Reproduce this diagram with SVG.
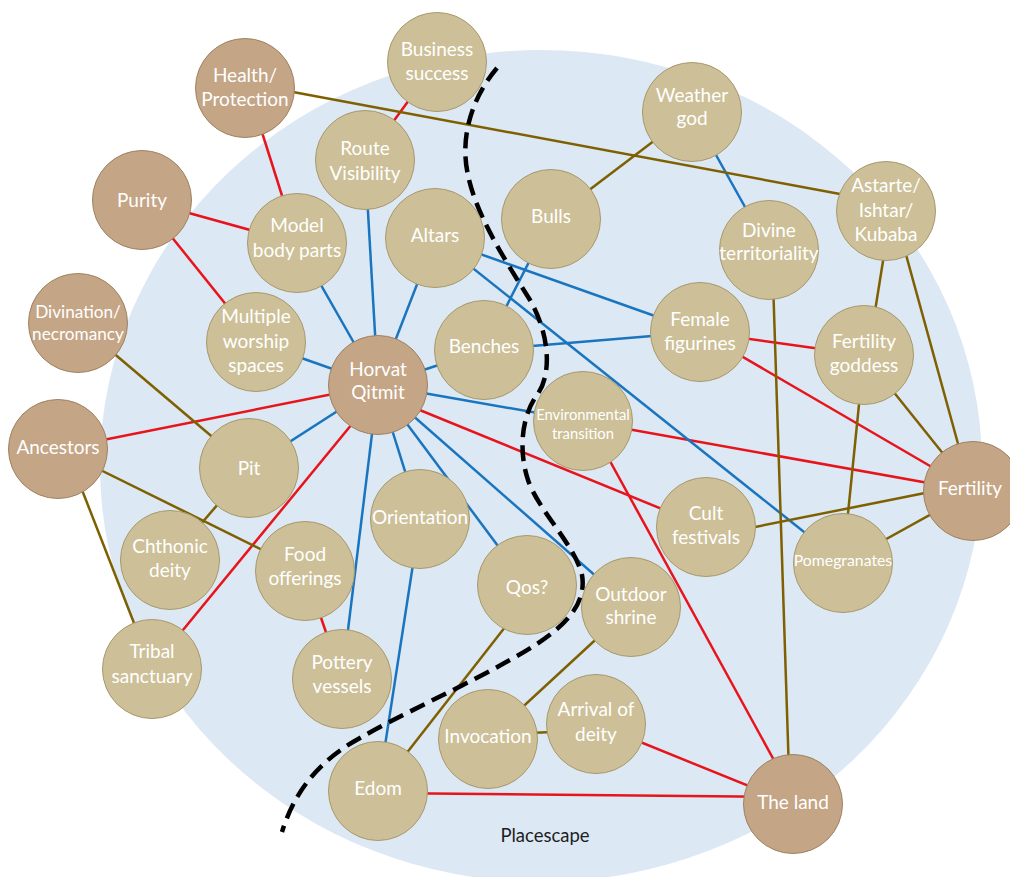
<svg xmlns="http://www.w3.org/2000/svg" width="1010" height="877" viewBox="0 0 1010 877">
<style>
.r{stroke:#e8141b;stroke-width:2.5;fill:none}
.b{stroke:#1a75bf;stroke-width:2.5;fill:none}
.o{stroke:#7f6000;stroke-width:2.5;fill:none}
.tan circle{fill:#cdbf97;stroke:#a8996c;stroke-width:1}
.brn circle{fill:#c4a586;stroke:#9f8260;stroke-width:1}
text{font-family:Lato,"Liberation Sans",sans-serif;font-size:19px;fill:#ffffff;text-anchor:middle}
.sm{font-size:14.8px}
.md{font-size:15.8px}
.dv{font-size:17.2px}
.ps{fill:#1e1e1e;font-size:18.5px}
</style>
<rect width="1010" height="877" fill="#ffffff"/>
<ellipse cx="541" cy="466" rx="441" ry="416" fill="#dde8f5"/>
<text class="ps" x="545" y="842">Placescape</text>
<g id="connectors">
<line class="r" x1="248" y1="88" x2="297" y2="243"/>
<line class="r" x1="437" y1="62" x2="365" y2="160"/>
<line class="r" x1="142" y1="200" x2="297" y2="243"/>
<line class="r" x1="142" y1="200" x2="256" y2="342"/>
<line class="r" x1="378" y1="385" x2="58" y2="449"/>
<line class="r" x1="384" y1="385" x2="151" y2="669"/>
<line class="r" x1="378" y1="393" x2="706" y2="527"/>
<line class="r" x1="583" y1="421" x2="973" y2="491"/>
<line class="r" x1="588" y1="421" x2="798" y2="804"/>
<line class="r" x1="700" y1="332" x2="864" y2="355"/>
<line class="r" x1="700" y1="332" x2="973" y2="491"/>
<line class="r" x1="305" y1="571" x2="342" y2="679"/>
<line class="r" x1="596" y1="724" x2="793" y2="804"/>
<line class="r" x1="378" y1="793" x2="793" y2="797"/>
<line class="b" x1="378" y1="385" x2="297" y2="243"/>
<line class="b" x1="378" y1="385" x2="365" y2="160"/>
<line class="b" x1="378" y1="385" x2="435" y2="238"/>
<line class="b" x1="378" y1="385" x2="256" y2="342"/>
<line class="b" x1="378" y1="385" x2="484" y2="350"/>
<line class="b" x1="378" y1="385" x2="583" y2="421"/>
<line class="b" x1="378" y1="385" x2="249" y2="468"/>
<line class="b" x1="378" y1="385" x2="342" y2="679"/>
<line class="b" x1="378" y1="385" x2="420" y2="519"/>
<line class="b" x1="378" y1="385" x2="527" y2="585"/>
<line class="b" x1="378" y1="385" x2="631" y2="607"/>
<line class="b" x1="435" y1="238" x2="700" y2="332"/>
<line class="b" x1="435" y1="238" x2="843" y2="563"/>
<line class="b" x1="484" y1="350" x2="700" y2="332"/>
<line class="b" x1="484" y1="350" x2="551" y2="219"/>
<line class="b" x1="692" y1="112" x2="769" y2="250"/>
<line class="b" x1="420" y1="519" x2="378" y2="791"/>
<line class="o" x1="293" y1="92" x2="840" y2="194"/>
<line class="o" x1="692" y1="112" x2="551" y2="219"/>
<line class="o" x1="891" y1="211" x2="868" y2="355"/>
<line class="o" x1="894" y1="211" x2="971" y2="491"/>
<line class="o" x1="864" y1="355" x2="973" y2="491"/>
<line class="o" x1="864" y1="355" x2="843" y2="563"/>
<line class="o" x1="750" y1="528" x2="930" y2="492"/>
<line class="o" x1="843" y1="563" x2="973" y2="491"/>
<line class="o" x1="772" y1="250" x2="790" y2="804"/>
<line class="o" x1="78" y1="323" x2="249" y2="468"/>
<line class="o" x1="58" y1="449" x2="305" y2="571"/>
<line class="o" x1="66" y1="449" x2="152" y2="669"/>
<line class="o" x1="249" y1="468" x2="170" y2="560"/>
<line class="o" x1="538" y1="585" x2="377" y2="791"/>
<line class="o" x1="631" y1="607" x2="488" y2="739"/>
<line class="o" x1="488" y1="735" x2="596" y2="730"/>
</g>
<path id="boundary" d="M497,68 C470,100 460,140 468,175 C476,215 505,260 530,300 C550,335 552,375 537,395 C522,415 518,450 528,480 C538,510 575,545 582,575 C588,610 555,635 510,660 C460,688 400,715 360,738 C320,760 295,790 282,832" fill="none" stroke="#000000" stroke-width="4.5" stroke-dasharray="16 8"/>
<g id="health" class="brn"><circle cx="245" cy="88" r="49.5"/><text x="245" y="82">Health/</text><text x="245" y="106">Protection</text></g>
<g id="business" class="tan"><circle cx="437" cy="62" r="49.5"/><text x="437" y="56">Business</text><text x="437" y="80">success</text></g>
<g id="route" class="tan"><circle cx="365" cy="160" r="49.5"/><text x="365" y="155">Route</text><text x="365" y="180">Visibility</text></g>
<g id="purity" class="brn"><circle cx="142" cy="200" r="49.5"/><text x="142" y="207">Purity</text></g>
<g id="model" class="tan"><circle cx="297" cy="243" r="49.5"/><text x="297" y="232">Model</text><text x="297" y="257">body parts</text></g>
<g id="altars" class="tan"><circle cx="435" cy="238" r="49.5"/><text x="435" y="242">Altars</text></g>
<g id="weather" class="tan"><circle cx="692" cy="112" r="49.5"/><text x="692" y="102">Weather</text><text x="692" y="125">god</text></g>
<g id="bulls" class="tan"><circle cx="551" cy="219" r="49.5"/><text x="551" y="223">Bulls</text></g>
<g id="divine" class="tan"><circle cx="769" cy="250" r="49.5"/><text x="769" y="237">Divine</text><text x="769" y="260">territoriality</text></g>
<g id="astarte" class="tan"><circle cx="886" cy="211" r="49.5"/><text x="886" y="192">Astarte/</text><text x="886" y="217">Ishtar/</text><text x="886" y="241">Kubaba</text></g>
<g id="divination" class="brn"><circle cx="78" cy="323" r="49.5"/><text class="dv" x="78" y="318">Divination/</text><text class="dv" x="78" y="340">necromancy</text></g>
<g id="multiple" class="tan"><circle cx="256" cy="342" r="49.5"/><text x="256" y="323">Multiple</text><text x="256" y="348">worship</text><text x="256" y="372">spaces</text></g>
<g id="horvat" class="brn"><circle cx="378" cy="385" r="49.5"/><text x="378" y="376">Horvat</text><text x="378" y="399">Qitmit</text></g>
<g id="benches" class="tan"><circle cx="484" cy="350" r="49.5"/><text x="484" y="353">Benches</text></g>
<g id="female" class="tan"><circle cx="700" cy="332" r="49.5"/><text x="700" y="326">Female</text><text x="700" y="350">figurines</text></g>
<g id="fertgoddess" class="tan"><circle cx="864" cy="355" r="49.5"/><text x="864" y="348">Fertility</text><text x="864" y="372">goddess</text></g>
<g id="environmental" class="tan"><circle cx="583" cy="421" r="49.5"/><text class="sm" x="583" y="420">Environmental</text><text class="sm" x="583" y="439">transition</text></g>
<g id="ancestors" class="brn"><circle cx="58" cy="449" r="49.5"/><text x="58" y="454">Ancestors</text></g>
<g id="pit" class="tan"><circle cx="249" cy="468" r="49.5"/><text x="249" y="475">Pit</text></g>
<g id="fertility" class="brn"><circle cx="973" cy="491" r="49.5"/><text x="970" y="495">Fertility</text></g>
<g id="orientation" class="tan"><circle cx="420" cy="519" r="49.5"/><text x="420" y="524">Orientation</text></g>
<g id="cult" class="tan"><circle cx="706" cy="527" r="49.5"/><text x="706" y="520">Cult</text><text x="706" y="544">festivals</text></g>
<g id="chthonic" class="tan"><circle cx="170" cy="560" r="49.5"/><text x="170" y="553">Chthonic</text><text x="170" y="577">deity</text></g>
<g id="food" class="tan"><circle cx="305" cy="571" r="49.5"/><text x="305" y="561">Food</text><text x="305" y="585">offerings</text></g>
<g id="pomegranates" class="tan"><circle cx="843" cy="563" r="49.5"/><text class="md" x="843" y="566">Pomegranates</text></g>
<g id="qos" class="tan"><circle cx="527" cy="585" r="49.5"/><text x="527" y="594">Qos?</text></g>
<g id="outdoor" class="tan"><circle cx="631" cy="607" r="49.5"/><text x="631" y="601">Outdoor</text><text x="631" y="624">shrine</text></g>
<g id="tribal" class="tan"><circle cx="152" cy="669" r="49.5"/><text x="152" y="658">Tribal</text><text x="152" y="683">sanctuary</text></g>
<g id="pottery" class="tan"><circle cx="342" cy="679" r="49.5"/><text x="342" y="669">Pottery</text><text x="342" y="693">vessels</text></g>
<g id="arrival" class="tan"><circle cx="596" cy="724" r="49.5"/><text x="596" y="716">Arrival of</text><text x="596" y="741">deity</text></g>
<g id="invocation" class="tan"><circle cx="488" cy="739" r="49.5"/><text x="488" y="743">Invocation</text></g>
<g id="edom" class="tan"><circle cx="378" cy="791" r="49.5"/><text x="378" y="795">Edom</text></g>
<g id="land" class="brn"><circle cx="793" cy="804" r="49.5"/><text x="793" y="809">The land</text></g>
</svg>
